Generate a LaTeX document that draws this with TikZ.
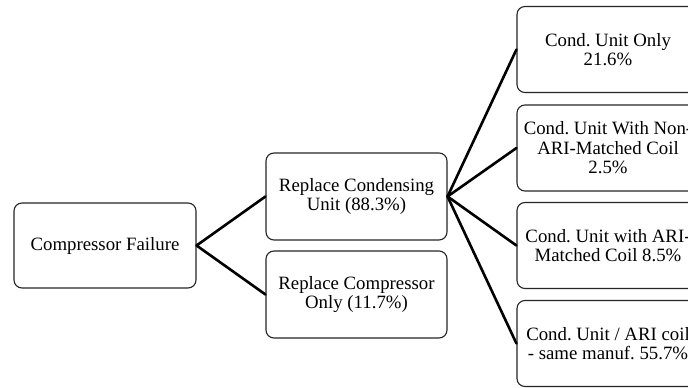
\documentclass[tikz,border=0pt]{standalone}
\usepackage{fontspec}
\setmainfont{Liberation Serif}
\frenchspacing
\begin{document}
\begin{tikzpicture}[x=1pt,y=-1pt,
  box/.style={draw=black!85, line width=1.1pt, rounded corners=8pt, fill=white,
    minimum width=182pt, minimum height=86pt, align=center, inner sep=2pt,
    font=\fontsize{18.8}{19.5}\selectfont},
  link/.style={draw=black, line width=2.6pt, line cap=round, line join=round}]
  \useasboundingbox (0,0) rectangle (688,388);
  \clip (0,0) rectangle (688,388);
  \fill[white] (0,0) rectangle (688,388);
  % root and first level
  \node[box, minimum width=182pt, minimum height=85pt] (fail) at (105,245.5) {Compressor Failure};
  \node[box, minimum width=181pt, minimum height=87pt] (cond) at (356.5,196.5) {Replace Condensing\\Unit (88.3\%)};
  \node[box, minimum width=181pt, minimum height=87pt] (comp) at (356.5,294.5) {Replace Compressor\\Only (11.7\%)};
  % second level under the condensing unit
  \node[box] (only) at (608,49.5) {Cond. Unit Only\\21.6\%};
  \node[box] (nonari) at (608,148) {Cond. Unit With Non-\\ARI-Matched Coil\\2.5\%};
  \node[box] (ari) at (608,245.5) {Cond. Unit with ARI-\\Matched Coil 8.5\%};
  \node[box] (same) at (608,343.5) {Cond. Unit / ARI coil\\- same manuf. 55.7\%};
  % connectors
  \draw[link] (cond.west) -- (fail.east) -- (comp.west);
  \foreach \t in {only,nonari,ari,same}
    \draw[link] (cond.east) -- (\t.west);
\end{tikzpicture}
\end{document}
